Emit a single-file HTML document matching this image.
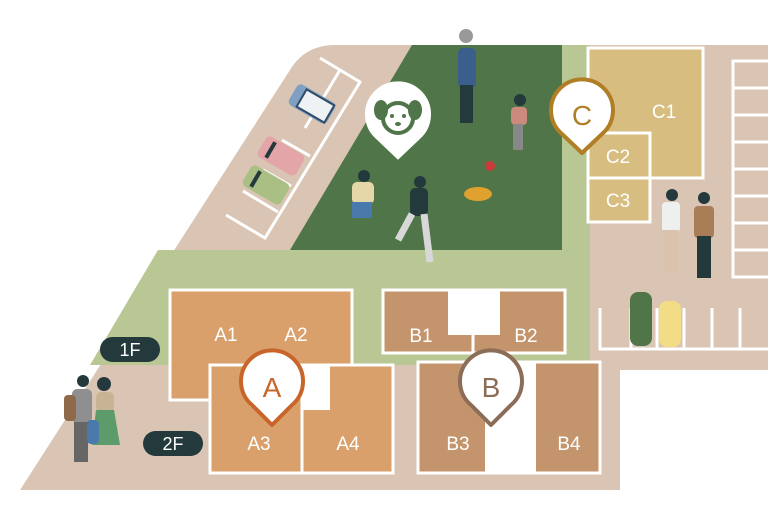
<!DOCTYPE html>
<html><head><meta charset="utf-8"><style>
html,body{margin:0;padding:0;background:#fff;}
svg{display:block;font-family:"Liberation Sans",sans-serif;}
</style></head><body>
<svg width="768" height="517" viewBox="0 0 768 517">
<!-- base tan -->
<path d="M20,490 L290,70 Q305,45 335,45 L768,45 L768,370 L620,370 L620,490 Z" fill="#dac5b4"/>
<!-- light green -->
<path d="M158,250 L562,250 L562,45 L590,45 L590,365 L90,365 Z" fill="#b9c795"/>
<!-- dark green -->
<path d="M412,45 L562,45 L562,250 L290,250 Z" fill="#4f7548"/>
<!-- left parking -->
<g stroke="#fff" stroke-width="3" fill="none">
<path d="M320,58 L360,82 L265,238 L226,215"/>
<path d="M340,70 L305,128"/>
<path d="M303,90 L330,106"/><path d="M282,140 L310,156"/><path d="M263,170 L291,186"/><path d="M243,191 L278,212"/>
</g>
<g transform="translate(312,104) rotate(30)"><rect x="-22" y="-12" width="44" height="24" rx="5" fill="#7fa0c2"/><rect x="-12" y="-10" width="32" height="20" fill="#eef2f5" stroke="#2f4c66" stroke-width="2"/></g>
<g transform="translate(281,156) rotate(30)"><rect x="-22" y="-12" width="44" height="24" rx="5" fill="#e4a5a8"/><rect x="-14" y="-9" width="4" height="18" fill="#23393c"/></g>
<g transform="translate(266,185) rotate(30)"><rect x="-22" y="-12" width="44" height="24" rx="5" fill="#aabf84"/><rect x="-14" y="-9" width="4" height="18" fill="#23393c"/></g>
<!-- C buildings -->
<g fill="#d8bd80" stroke="#fff" stroke-width="3">
<rect x="588" y="48" width="115" height="130"/>
<rect x="588" y="133" width="62" height="45"/>
<rect x="588" y="178" width="62" height="44"/>
</g>
<g fill="#fff" font-size="19" text-anchor="middle">
<text x="664" y="118">C1</text><text x="618" y="163">C2</text><text x="618" y="207">C3</text>
</g>
<!-- right parking -->
<g stroke="#fff" stroke-width="3" fill="none">
<path d="M768,61 L733,61 L733,277 L768,277"/>
<path d="M733,88 H768 M733,115 H768 M733,142 H768 M733,169 H768 M733,196 H768 M733,223 H768 M733,250 H768"/>
<path d="M600,308 V349 H768 M631,308 V349 M657,308 V349 M684,308 V349 M712,308 V349 M740,308 V349"/>
</g>
<rect x="630" y="292" width="22" height="54" rx="8" fill="#4f7548"/>
<rect x="659" y="301" width="22" height="46" rx="8" fill="#f2dd86"/>
<!-- A buildings -->
<g fill="#d9a06c" stroke="#fff" stroke-width="3">
<rect x="170" y="290" width="182" height="110"/>
<rect x="210" y="365" width="92" height="108"/>
<rect x="302" y="365" width="91" height="108"/>
</g>
<rect x="303" y="366" width="27" height="44" fill="#fff"/>
<!-- B buildings -->
<g fill="#c4956d" stroke="#fff" stroke-width="3">
<rect x="383" y="290" width="182" height="63"/>
<rect x="418" y="362" width="182" height="111"/>
</g>
<rect x="448" y="290" width="52" height="45" fill="#fff"/>
<rect x="485" y="363" width="51" height="110" fill="#fff"/>
<line x1="473" y1="335" x2="473" y2="362" stroke="#fff" stroke-width="3"/>
<g fill="#fff" font-size="19" text-anchor="middle">
<text x="226" y="341">A1</text><text x="296" y="341">A2</text>
<text x="259" y="450">A3</text><text x="348" y="450">A4</text>
<text x="421" y="342">B1</text><text x="526" y="342">B2</text>
<text x="458" y="450">B3</text><text x="569" y="450">B4</text>
</g>
<!-- pins -->
<g stroke-width="4" fill="#fff">
<path d="M272,425 L252,405 A31,31 0 1 1 292,405 Z" stroke="#c8652a" stroke-linejoin="round"/>
<path d="M491,425 L471,405 A31,31 0 1 1 511,405 Z" stroke="#8b6d58" stroke-linejoin="round"/>
<path d="M582,153 L562,134 A31,31 0 1 1 602,134 Z" stroke="#b07e25" stroke-linejoin="round"/>
<path d="M398,157 L378,138 A31,31 0 1 1 418,138 Z" stroke="#fff"/>
</g>
<g font-size="28" text-anchor="middle">
<text x="272" y="397" fill="#c8652a">A</text>
<text x="491" y="397" fill="#8b6d58">B</text>
<text x="582" y="125" fill="#b07e25">C</text>
</g>
<!-- dog icon -->
<circle cx="398" cy="118" r="15" fill="none" stroke="#4f7548" stroke-width="4"/>
<ellipse cx="381" cy="110" rx="7" ry="10" fill="#4f7548"/><ellipse cx="415" cy="110" rx="7" ry="10" fill="#4f7548"/>
<circle cx="392" cy="116" r="2" fill="#4f7548"/><circle cx="404" cy="116" r="2" fill="#4f7548"/><ellipse cx="398" cy="124" rx="3" ry="2" fill="#4f7548"/>
<!-- people -->
<g>
<rect x="458" y="48" width="18" height="40" rx="5" fill="#3a5f8c"/><circle cx="466" cy="36" r="7" fill="#999"/>
<rect x="460" y="85" width="13" height="38" fill="#23393c"/>
<circle cx="520" cy="100" r="6" fill="#23393c"/><rect x="511" y="107" width="16" height="18" rx="4" fill="#cc8a7d"/><rect x="513" y="124" width="10" height="26" fill="#888"/>
<circle cx="490" cy="166" r="5" fill="#cc3b3b"/>
<ellipse cx="478" cy="194" rx="14" ry="7" fill="#e1a12f"/>
<circle cx="420" cy="182" r="6" fill="#23393c"/><rect x="410" y="188" width="18" height="28" rx="5" fill="#23393c"/><path d="M412,214 L398,240 M424,214 L430,262" stroke="#d8d8d8" stroke-width="7"/>
<circle cx="364" cy="176" r="6" fill="#23393c"/><rect x="352" y="182" width="22" height="22" rx="5" fill="#e6d7a8"/><rect x="352" y="202" width="20" height="16" fill="#4a79ab"/>
<circle cx="672" cy="195" r="6" fill="#23393c"/><rect x="662" y="202" width="18" height="30" rx="4" fill="#eef0ef"/><rect x="663" y="230" width="15" height="42" fill="#dbc3ab"/>
<circle cx="704" cy="198" r="6" fill="#23393c"/><rect x="694" y="206" width="20" height="32" rx="4" fill="#a87d58"/><rect x="697" y="236" width="14" height="42" fill="#23393c"/>
<circle cx="83" cy="381" r="6" fill="#23393c"/><rect x="72" y="389" width="20" height="34" rx="5" fill="#8f8f8f"/><rect x="64" y="395" width="12" height="26" rx="4" fill="#8f6a4a"/><rect x="74" y="422" width="14" height="40" fill="#666"/>
<circle cx="104" cy="384" r="7" fill="#23393c"/><rect x="96" y="392" width="18" height="20" rx="5" fill="#c8b495"/><path d="M96,410 H114 L120,445 H92 Z" fill="#5c9c6a"/>
<rect x="87" y="420" width="12" height="24" rx="4" fill="#4a79ab"/>
</g>
<!-- floor pills -->
<rect x="100" y="337" width="60" height="25" rx="12.5" fill="#23393c"/>
<text x="130" y="356" fill="#fff" font-size="18" text-anchor="middle">1F</text>
<rect x="143" y="431" width="60" height="25" rx="12.5" fill="#23393c"/>
<text x="173" y="450" fill="#fff" font-size="18" text-anchor="middle">2F</text>
</svg>
</body></html>
